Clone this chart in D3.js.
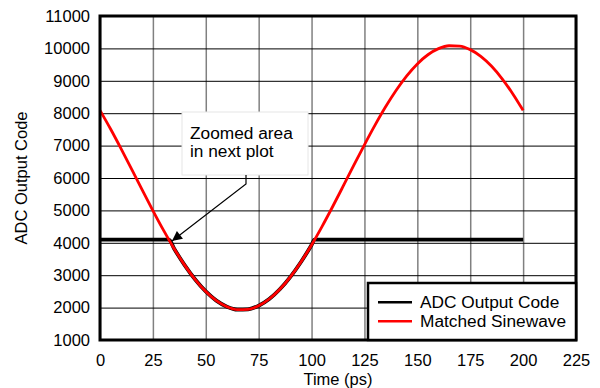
<!DOCTYPE html>
<html>
<head>
<meta charset="utf-8">
<script src="https://cdn.jsdelivr.net/npm/d3@7"></script>
<style>
  body { margin: 0; background: #fff; }
  svg { font-family: "Liberation Sans", Arial, sans-serif; }
</style>
</head>
<body>
<svg id="chart" width="600" height="388"></svg>
<script>
// time axis (ps) and the fitted sinewave
var sineTime = [0, 5, 10, 15, 20, 25, 30, 35, 40, 45, 50, 55, 60, 65, 70, 75, 80, 85, 90, 95, 100,
                105, 110, 115, 120, 125, 130, 135, 140, 145, 150, 155, 160, 165, 170, 175, 180, 185, 190, 195, 200];
var sineCode = [8087, 7512, 6900, 6266, 5626, 4995, 4390, 3824, 3312, 2866, 2498, 2216, 2028, 1938, 1948, 2058, 2265, 2565, 2950, 3409, 3933,
                4508, 5120, 5754, 6394, 7025, 7630, 8196, 8708, 9154, 9522, 9804, 9992, 10082, 10072, 9962, 9755, 9455, 9070, 8611, 8087];

// ADC output: clipped at 4095, follows the sine in the dip
var adcTime = [0, 32.6, 35, 40, 45, 50, 55, 60, 65, 70, 75, 80, 85, 90, 95, 100, 101.4, 200];
var adcCode = [4095, 4095, 3824, 3312, 2866, 2498, 2216, 2028, 1938, 1948, 2058, 2265, 2565, 2950, 3409, 3933, 4095, 4095];

var xTicks = [0, 25, 50, 75, 100, 125, 150, 175, 200, 225];
var yTicks = [1000, 2000, 3000, 4000, 5000, 6000, 7000, 8000, 9000, 10000, 11000];

var seriesNames = ["ADC Output Code", "Matched Sinewave"];
var seriesColors = ["#000000", "#ff0000"];

var margin = {left: 100, top: 16, right: 24, bottom: 48};
var width = 600 - margin.left - margin.right,
    height = 388 - margin.top - margin.bottom;

var svg = d3.select("#chart");
var g = svg.append("g").attr("transform", "translate(" + margin.left + "," + margin.top + ")");

var x = d3.scaleLinear().domain([0, 225]).range([0, width]);
var y = d3.scaleLinear().domain([1000, 11000]).range([height, 0]);

// vertical grid + x labels
var xAxis = g.append("g")
    .attr("transform", "translate(0," + height + ")")
    .call(d3.axisBottom(x).tickValues(xTicks).tickSize(-height).tickPadding(14).tickFormat(d3.format("d")));
xAxis.select(".domain").remove();
xAxis.selectAll("line").attr("stroke", "#808080").attr("stroke-width", 1.5);
xAxis.selectAll("text").attr("font-size", "16.5px").attr("fill", "#000");

// horizontal grid + y labels
var yAxis = g.append("g")
    .call(d3.axisLeft(y).tickValues(yTicks).tickSize(-width).tickPadding(10).tickFormat(d3.format("d")));
yAxis.select(".domain").remove();
yAxis.selectAll("line").attr("stroke", "#000").attr("stroke-width", 1);
yAxis.selectAll("text").attr("font-size", "16.5px").attr("fill", "#000");

var line = d3.line()
    .x(function(d) { return x(d[0]); })
    .y(function(d) { return y(d[1]); })
    .curve(d3.curveMonotoneX);

var adcData = adcTime.map(function(t, i) { return [t, adcCode[i]]; });
var sineData = sineTime.map(function(t, i) { return [t, sineCode[i]]; });

g.append("path")
    .datum(adcData)
    .attr("d", line)
    .attr("fill", "none")
    .attr("stroke", seriesColors[0])
    .attr("stroke-width", 3.8);

g.append("path")
    .datum(sineData)
    .attr("d", line)
    .attr("fill", "none")
    .attr("stroke", seriesColors[1])
    .attr("stroke-width", 2.8);

// plot frame
g.append("rect")
    .attr("x", 0).attr("y", 0)
    .attr("width", width).attr("height", height)
    .attr("fill", "none")
    .attr("stroke", "#000")
    .attr("stroke-width", 3);

// annotation box + arrow
svg.append("defs").append("marker")
    .attr("id", "arrowhead")
    .attr("viewBox", "0 -5 10 10")
    .attr("refX", 10)
    .attr("refY", 0)
    .attr("markerWidth", 14)
    .attr("markerHeight", 10)
    .attr("markerUnits", "userSpaceOnUse")
    .attr("orient", "auto")
    .append("path")
    .attr("d", "M0,-5L10,0L0,5Z")
    .attr("fill", "#000");

svg.append("rect")
    .attr("x", 182).attr("y", 112)
    .attr("width", 126).attr("height", 63)
    .attr("fill", "#fff")
    .attr("stroke", "#e6e6e6")
    .attr("stroke-width", 1);

var note = svg.append("text")
    .attr("font-size", "17.3px")
    .attr("fill", "#000");
note.append("tspan").attr("x", 190).attr("y", 138.5).text("Zoomed area");
note.append("tspan").attr("x", 190).attr("y", 157).text("in next plot");

svg.append("path")
    .attr("d", "M246,175L246,184L172,241")
    .attr("fill", "none")
    .attr("stroke", "#000")
    .attr("stroke-width", 1.2)
    .attr("marker-end", "url(#arrowhead)");

// legend
var legend = svg.append("g");
legend.append("rect")
    .attr("x", 368).attr("y", 283)
    .attr("width", 208).attr("height", 57)
    .attr("fill", "#fff")
    .attr("stroke", "#000")
    .attr("stroke-width", 2.5);

seriesNames.forEach(function(name, i) {
    var ly = 302.3 + i * 19;
    legend.append("line")
        .attr("x1", 378).attr("x2", 412)
        .attr("y1", ly).attr("y2", ly)
        .attr("stroke", seriesColors[i])
        .attr("stroke-width", 2.5);
    legend.append("text")
        .attr("x", 420).attr("y", ly + 5.5)
        .attr("font-size", "17.3px")
        .attr("fill", "#000")
        .text(name);
});

// axis titles
svg.append("text")
    .attr("x", margin.left + width / 2).attr("y", 384.5)
    .attr("text-anchor", "middle")
    .attr("font-size", "16.5px")
    .text("Time (ps)");

svg.append("text")
    .attr("transform", "translate(27," + (margin.top + height / 2) + ") rotate(-90)")
    .attr("text-anchor", "middle")
    .attr("font-size", "16.5px")
    .text("ADC Output Code");
</script>
</body>
</html>
